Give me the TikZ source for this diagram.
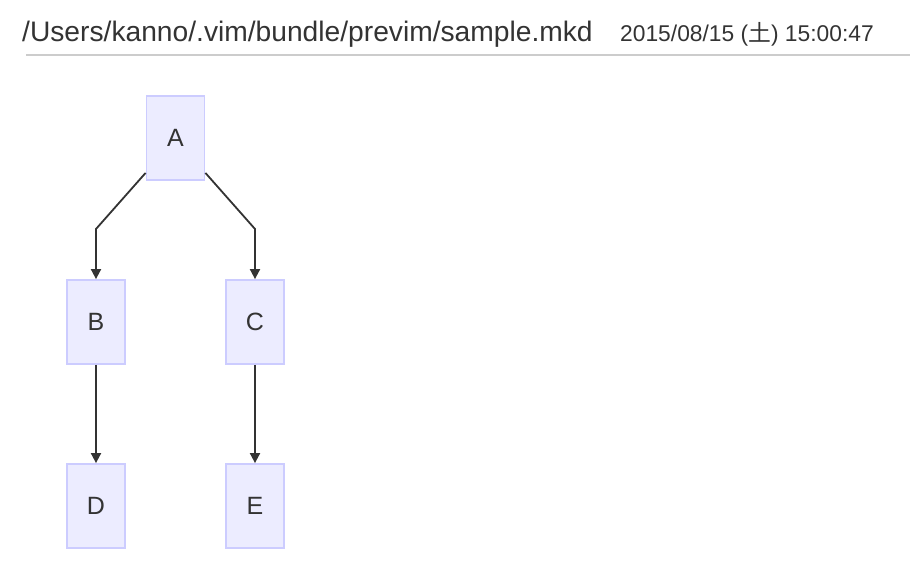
\documentclass[tikz,border=0pt]{standalone}
\usepackage{fontspec}
\setmainfont{Liberation Sans}
\newfontfamily\cjkfont{Noto Sans CJK JP}
\usetikzlibrary{arrows.meta}
\definecolor{nodefill}{HTML}{ECECFF}
\definecolor{nodeline}{HTML}{CCCCFF}
\definecolor{ink}{HTML}{333333}
\definecolor{rule}{HTML}{CCCCCC}
\tikzset{
  box/.style={draw=nodeline, fill=nodefill, line width=1.8pt, minimum width=58pt, minimum height=84pt, inner sep=0pt, text=ink, font=\fontsize{25}{25}\selectfont},
  arr/.style={draw=ink, line width=1.8pt, -{Triangle[length=10pt,width=10pt]}},
  title/.style={anchor=base west, inner sep=0pt, text=ink}
}
\begin{document}
\begin{tikzpicture}[x=1pt,y=-1pt]
\useasboundingbox (0,0) rectangle (910,572);
\node[title, font=\fontsize{28.2}{28}\selectfont] (path) at (22,42) {/Users/kanno/.vim/bundle/previm/sample.mkd};
\node[title, font=\fontsize{22.8}{22}\selectfont] (date) at (620,42) {2015/08/15 ({\cjkfont 土}) 15:00:47};
\coordinate (ruleL) at (26,55);
\coordinate (ruleR) at (910,55);
\draw[rule, line width=2pt] (ruleL) -- (ruleR);

\node[box] (A) at (175.5,138) {A};
\node[box] (B) at (96,322) {B};
\node[box] (C) at (255,322) {C};
\node[box] (D) at (96,506) {D};
\node[box] (E) at (255,506) {E};

\coordinate (bendB) at (96,229);
\coordinate (bendC) at (255,229);
\draw[arr] ([yshift=8pt]A.south west) -- (bendB) -- (B.north);
\draw[arr] ([yshift=8pt]A.south east) -- (bendC) -- (C.north);
\draw[arr] (B.south) -- (D.north);
\draw[arr] (C.south) -- (E.north);
\end{tikzpicture}
\end{document}
